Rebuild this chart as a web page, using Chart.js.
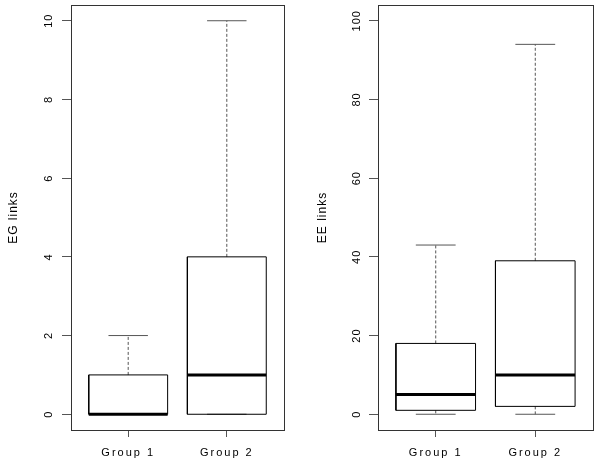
<!DOCTYPE html>
<html>
<head>
<meta charset="utf-8">
<script src="https://cdn.jsdelivr.net/npm/chart.js@4"></script>
<style>
  html, body { margin: 0; padding: 0; background: #fff; }
  .wrap { width: 600px; height: 463px; display: flex; }
  .panel { width: 300px; height: 463px; position: relative; }
</style>
</head>
<body>
<div class="wrap">
  <div class="panel"><canvas id="eg"></canvas></div>
  <div class="panel"><canvas id="ee"></canvas></div>
</div>
<script>
// DATA
const groups = ["Group 1", "Group 2"];

// EG links: min, q1, median, q3, max per group
const egMin = [0, 0];
const egQ1 = [0, 0];
const egMed = [0, 1];
const egQ3 = [1, 4];
const egMax = [2, 10];
const egTicks = [0, 2, 4, 6, 8, 10];

// EE links
const eeMin = [0, 0];
const eeQ1 = [1, 2];
const eeMed = [5, 10];
const eeQ3 = [18, 39];
const eeMax = [43, 94];
const eeTicks = [0, 20, 40, 60, 80, 100];

const FONT = "'Liberation Sans', Arial, Helvetica, sans-serif";
const BOX_HALF = 0.4;
const CAP_HALF = 0.2;
const LINE_GREY = "#555";

// one scatter dataset per segment, box on top of whiskers, median on top of box
function boxDatasets(mins, q1s, meds, q3s, maxs){
  let ds = [];
  groups.forEach((g, i) => {
    let c = i + 1;
    let seg = (pts, extra) => Object.assign({
      data: pts, showLine: true, pointRadius: 0, fill: false,
      borderColor: "#000", borderWidth: 1
    }, extra);

    ds.push(seg([{x: c - BOX_HALF, y: meds[i]}, {x: c + BOX_HALF, y: meds[i]}],
      {borderWidth: 3, order: 0}));
    ds.push(seg([
      {x: c - BOX_HALF, y: q1s[i]}, {x: c + BOX_HALF, y: q1s[i]},
      {x: c + BOX_HALF, y: q3s[i]}, {x: c - BOX_HALF, y: q3s[i]},
      {x: c - BOX_HALF, y: q1s[i]}
    ], {order: 1}));
    ds.push(seg([{x: c, y: q3s[i]}, {x: c, y: maxs[i]}],
      {borderColor: LINE_GREY, borderDash: [3, 2], order: 2}));
    ds.push(seg([{x: c, y: q1s[i]}, {x: c, y: mins[i]}],
      {borderColor: LINE_GREY, borderDash: [3, 2], order: 2}));
    ds.push(seg([{x: c - CAP_HALF, y: maxs[i]}, {x: c + CAP_HALF, y: maxs[i]}],
      {borderColor: LINE_GREY, order: 2}));
    ds.push(seg([{x: c - CAP_HALF, y: mins[i]}, {x: c + CAP_HALF, y: mins[i]}],
      {borderColor: LINE_GREY, order: 2}));
  });
  return ds;
}

// frame round the plot region
const frame = {
  id: "frame",
  afterDatasetsDraw(chart){
    let a = chart.chartArea, ctx = chart.ctx;
    ctx.save();
    ctx.strokeStyle = "#333";
    ctx.lineWidth = 1;
    ctx.strokeRect(a.left + 0.5, a.top + 0.5, a.right - a.left, a.bottom - a.top);
    ctx.restore();
  }
};

// R draws its labels a bit spread out
const spacing = {
  id: "spacing",
  afterLayout(chart){
    Object.values(chart.scales).forEach(s => {
      if (s.$spaced) return;
      s.$spaced = true;
      let sp = s.axis === "x" ? "2px" : "1px";
      ["drawLabels", "drawTitle"].forEach(name => {
        let fn = s[name];
        s[name] = function(...args){
          let prev = this.ctx.letterSpacing;
          this.ctx.letterSpacing = sp;
          fn.apply(this, args);
          this.ctx.letterSpacing = prev;
        };
      });
    });
  }
};

function makePanel(id, title, ticks, lo, hi, datasets, yWidth, rightPad, labelPad, titlePad){
  return new Chart(document.getElementById(id), {
    type: "scatter",
    data: {datasets: datasets},
    plugins: [frame, spacing],
    options: {
      responsive: true,
      maintainAspectRatio: false,
      animation: false,
      layout: {padding: {top: 5, right: rightPad, left: 0, bottom: 0}},
      plugins: {legend: {display: false}, tooltip: {enabled: false}},
      scales: {
        x: {
          type: "linear",
          min: 0.42,
          max: 2.58,
          afterBuildTicks: s => { s.ticks = groups.map((g, i) => ({value: i + 1})); },
          afterFit: s => { s.height = 33; s.paddingLeft = 0; s.paddingRight = 0; },
          border: {display: false},
          grid: {drawOnChartArea: false, drawTicks: true, tickLength: 7, color: LINE_GREY},
          ticks: {
            callback: v => groups[v - 1],
            color: "#000",
            padding: 9,
            maxRotation: 0,
            font: {family: FONT, size: 11}
          }
        },
        y: {
          min: lo,
          max: hi,
          afterBuildTicks: s => { s.ticks = ticks.map(v => ({value: v})); },
          afterFit: s => { s.width = yWidth; s.paddingTop = 0; s.paddingBottom = 0; },
          border: {display: false},
          grid: {drawOnChartArea: false, drawTicks: true, tickLength: 9, color: LINE_GREY},
          ticks: {
            color: "#000",
            minRotation: 90,
            maxRotation: 90,
            crossAlign: "center",
            padding: labelPad,
            font: {family: FONT, size: 11}
          },
          title: {
            display: true,
            text: title,
            color: "#000",
            padding: {top: titlePad, bottom: 0},
            font: {family: FONT, size: 12}
          }
        }
      }
    }
  });
}

makePanel("eg", "EG links", egTicks, -0.4, 10.4,
  boxDatasets(egMin, egQ1, egMed, egQ3, egMax), 71, 16, 7, 6);
makePanel("ee", "EE links", eeTicks, -4, 104,
  boxDatasets(eeMin, eeQ1, eeMed, eeQ3, eeMax), 78, 7, 3, 15);
</script>
</body>
</html>
